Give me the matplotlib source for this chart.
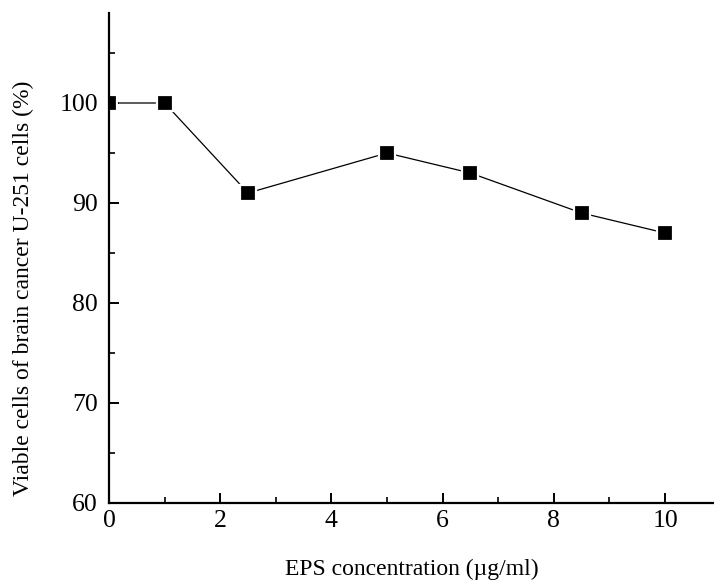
import numpy as np
import matplotlib.pyplot as plt
from matplotlib.ticker import MultipleLocator

# EPS concentration (ug/ml) vs viable U-251 cells (%)
concentration = [0, 1, 2.5, 5, 6.5, 8.5, 10]
viable = [100, 100, 91, 95, 93, 89, 87]

plt.rcParams['font.family'] = ['Liberation Serif', 'DejaVu Serif']

fig = plt.figure(figsize=(7.14, 5.82), dpi=100)
ax = fig.add_axes([109 / 714, 79 / 582, 605 / 714, 490 / 582])

ax.plot(concentration, viable, color='black', linewidth=0.9,
        marker='s', markersize=12, markerfacecolor='black',
        markeredgecolor='white', markeredgewidth=1.6)

ax.set_xlim(0, 10.88)
ax.set_ylim(60, 109)

ax.xaxis.set_major_locator(MultipleLocator(2))
ax.xaxis.set_minor_locator(MultipleLocator(1))
ax.yaxis.set_major_locator(MultipleLocator(10))
ax.yaxis.set_minor_locator(MultipleLocator(5))

ax.spines['top'].set_visible(False)
ax.spines['right'].set_visible(False)
ax.spines['left'].set_linewidth(1.6)
ax.spines['bottom'].set_linewidth(1.6)

ax.tick_params(which='major', direction='in', length=7, width=1.4,
               labelsize=18.5, pad=5)
ax.tick_params(which='minor', direction='in', length=4, width=1.2)
ax.tick_params(axis='y', which='major', pad=8)

ax.set_xlabel('EPS concentration (\u00b5g/ml)', fontsize=17, labelpad=19.5)
ax.set_ylabel('Viable cells of brain cancer U-251 cells (%)', fontsize=17)
ax.yaxis.set_label_coords(-0.124, 0.439)

fig.savefig('out.png', dpi=100)
